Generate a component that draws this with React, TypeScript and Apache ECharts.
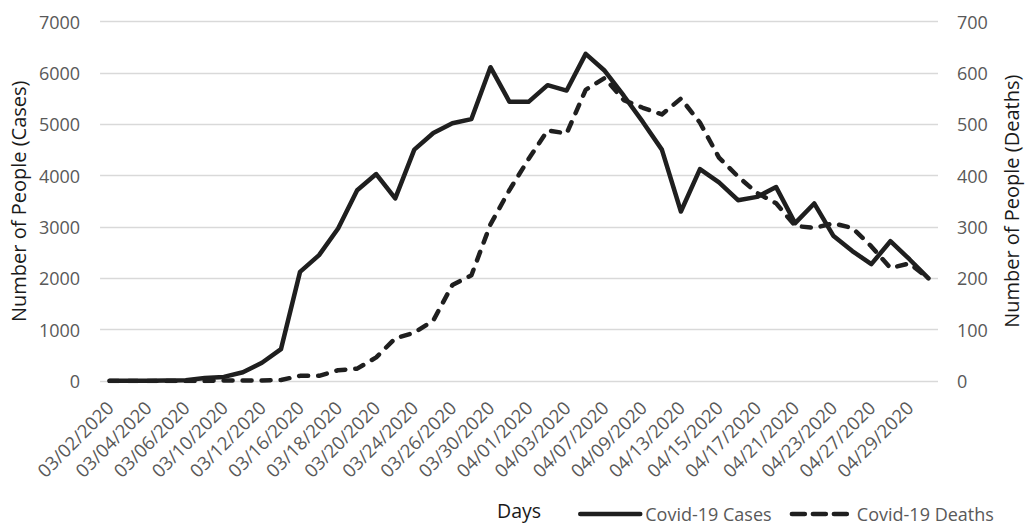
import React, { useEffect, useRef } from "react";
import * as echarts from "echarts";

const dates = [
  "03/02/2020", "03/03/2020", "03/04/2020", "03/05/2020", "03/06/2020",
  "03/09/2020", "03/10/2020", "03/11/2020", "03/12/2020", "03/13/2020",
  "03/16/2020", "03/17/2020", "03/18/2020", "03/19/2020", "03/20/2020",
  "03/23/2020", "03/24/2020", "03/25/2020", "03/26/2020", "03/27/2020",
  "03/30/2020", "03/31/2020", "04/01/2020", "04/02/2020", "04/03/2020",
  "04/06/2020", "04/07/2020", "04/08/2020", "04/09/2020", "04/10/2020",
  "04/13/2020", "04/14/2020", "04/15/2020", "04/16/2020", "04/17/2020",
  "04/20/2020", "04/21/2020", "04/22/2020", "04/23/2020", "04/24/2020",
  "04/27/2020", "04/28/2020", "04/29/2020", "04/30/2020",
];

const cases = [
  5, 5, 5, 10, 15, 60, 80, 170, 355, 620,
  2125, 2450, 2970, 3715, 4030, 3555, 4505, 4830, 5020, 5100,
  6110, 5435, 5435, 5760, 5655, 6370, 6040, 5555, 5045, 4505,
  3300, 4125, 3866, 3521, 3585, 3776, 3073, 3457, 2830, 2530,
  2275, 2722, 2371, 2000,
];

const deaths = [
  0, 0, 0, 0, 0, 0, 1, 1, 1, 2,
  10, 10, 21, 24, 46, 83, 94, 118, 187, 206,
  305, 372, 432, 488, 482, 567, 590, 547, 532, 519,
  550, 503, 435, 398, 366, 346, 302, 298, 307, 298,
  262, 220, 229, 200,
];

const FONT = "'Open Sans', 'Noto Sans', sans-serif";
const LINE = "#1f1f1f";

export default function App() {
  const ref = useRef<HTMLDivElement>(null);
  useEffect(() => {
    document.body.style.margin = "0";
    if (!ref.current) return;
    const chart = echarts.init(ref.current, undefined, { renderer: "svg" });
    chart.setOption({
      animation: false,
      textStyle: { fontFamily: FONT },
      grid: { left: 100, right: 86, top: 21.5, bottom: 137.3 },
      legend: {
        left: 573,
        top: 500,
        itemWidth: 60,
        itemHeight: 4,
        itemGap: 18,
        itemStyle: { opacity: 0 },
        lineStyle: { width: 4.5 },
        textStyle: { fontSize: 18, color: "#595959", fontFamily: FONT },
        data: [
          { name: "Covid-19 Cases" },
          { name: "Covid-19 Deaths", lineStyle: { width: 4.5, type: [13, 8], cap: "round" } },
        ],
      },
      xAxis: {
        type: "category",
        data: dates,
        boundaryGap: true,
        name: "Days",
        nameLocation: "middle",
        nameGap: 119,
        nameTextStyle: { fontSize: 19.5, color: "#1a1a1a", fontFamily: FONT },
        axisLine: { show: false },
        axisTick: { show: false },
        axisLabel: {
          interval: 1,
          rotate: 45,
          margin: 23,
          fontSize: 18.5,
          color: "#595959",
          fontFamily: FONT,
        },
      },
      yAxis: [
        {
          type: "value",
          min: 0,
          max: 7000,
          interval: 1000,
          name: "Number of People (Cases)",
          nameLocation: "middle",
          nameGap: 68,
          nameTextStyle: { fontSize: 20, color: "#1a1a1a", fontFamily: FONT },
          axisLine: { show: false },
          axisTick: { show: false },
          axisLabel: {
            margin: 20,
            fontSize: 18,
            color: "#595959",
            fontFamily: FONT,
            formatter: (v: number) => String(v),
          },
          splitLine: { lineStyle: { color: "#d9d9d9", width: 1.4 } },
        },
        {
          type: "value",
          min: 0,
          max: 700,
          interval: 100,
          position: "right",
          name: "Number of People (Deaths)",
          nameLocation: "middle",
          nameGap: 63,
          nameTextStyle: { fontSize: 20, color: "#1a1a1a", fontFamily: FONT },
          axisLine: { show: false },
          axisTick: { show: false },
          axisLabel: {
            margin: 19,
            fontSize: 18,
            color: "#595959",
            fontFamily: FONT,
            formatter: (v: number) => String(v),
          },
          splitLine: { show: false },
        },
      ],
      series: [
        {
          name: "Covid-19 Cases",
          type: "line",
          data: cases,
          yAxisIndex: 0,
          symbol: "none",
          lineStyle: { color: LINE, width: 4.5, cap: "round", join: "round" },
          itemStyle: { color: LINE },
        },
        {
          name: "Covid-19 Deaths",
          type: "line",
          data: deaths,
          yAxisIndex: 1,
          symbol: "none",
          lineStyle: {
            color: LINE,
            width: 4.5,
            type: [9, 10],
            cap: "round",
            join: "round",
          },
          itemStyle: { color: LINE },
        },
      ],
    });
    return () => chart.dispose();
  }, []);
  return <div ref={ref} style={{ width: 1029, height: 525 }} />;
}
